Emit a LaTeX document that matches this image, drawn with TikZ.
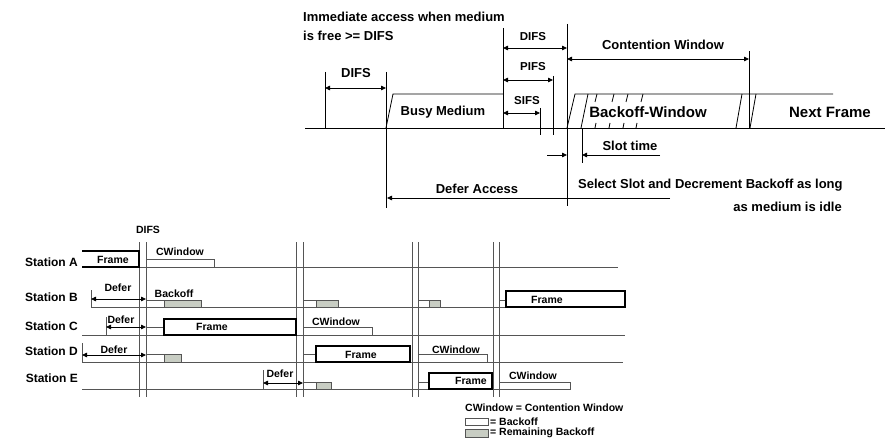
\documentclass[tikz,border=0pt]{standalone}
\usepackage{fontspec}
\setmainfont{Liberation Sans}
\usetikzlibrary{arrows.meta}
\definecolor{ln}{RGB}{85,85,85}
\definecolor{rem}{RGB}{200,205,195}
\tikzset{
  tl/.style={font=\bfseries\fontsize{13}{15}\selectfont, inner sep=0pt},
  sl/.style={font=\bfseries\fontsize{10.5}{12}\selectfont, inner sep=0pt},
  ml/.style={font=\bfseries\fontsize{11.5}{13}\selectfont, inner sep=0pt},
  stl/.style={font=\bfseries\fontsize{12}{14}\selectfont, inner sep=0pt, anchor=east},
  bl/.style={font=\bfseries\fontsize{15}{17}\selectfont, inner sep=0pt},
  tline/.style={line width=0.8pt, draw=black},
  gline/.style={line width=0.8pt, draw=ln},
  tip/.tip={Triangle[length=5pt,width=4.5pt]},
  dim/.style={line width=0.8pt, tip-tip},
  onearrow/.style={line width=0.8pt, -tip},
  wbox/.style={line width=0.7pt, draw=ln, fill=white},
  gbox/.style={line width=0.7pt, draw=ln, fill=rem},
  fbox/.style={line width=2pt, draw=black, fill=white}
}
\begin{document}
\begin{tikzpicture}[x=1pt,y=-1pt]
\useasboundingbox (0,0) rectangle (887,444);
\fill[white] (0,0) rectangle (887,444);

% ---------------- top diagram ----------------
\draw[tline] (305,128) -- (885,128);
\draw[tline] (325,72) -- (325,128);
\draw[tline] (386,72) -- (386,208);
\draw[tline] (503,28) -- (503,128);
\draw[tline] (567,24) -- (567,206);
\draw[tline] (540,108) -- (540,135);
\draw[tline] (553,76) -- (553,135);
\draw[tline] (749,51) -- (749,128);
\draw[tline] (582,128) -- (582,163);
% busy medium
\draw[tline] (386,128) -- (393,94) -- (503,94);
% backoff window / next frame
\draw[tline] (567,128) -- (575,94) -- (833,94);
\draw[tline] (581,128) -- (588,94);
\draw[tline] (736,128) -- (742,94);
\draw[tline] (750,128) -- (756,94);
\foreach \x in {595,612,626,641} \draw[tline] (\x,102) -- (\x+2,94);
\foreach \x in {595,609,623,636} \draw[tline] (\x,128) -- (\x+1,123);

% dimension arrows
\draw[dim] (325,88) -- (386,88);
\draw[dim] (503,48) -- (567,48);
\draw[dim] (503,80) -- (553,80);
\draw[dim] (503,113) -- (540,113);
\draw[dim] (567,59) -- (749,59);
\draw[onearrow] (670,198) -- (387,198);
\draw[onearrow] (547,155) -- (567,155);
\draw[onearrow] (660,155) -- (582,155);

% top labels
\node[tl, anchor=west] (imm1) at (303,17) {Immediate access when medium};
\node[tl, anchor=west] (imm2) at (303,36) {is free >= DIFS};
\node[tl] (difsL) at (356,73) {DIFS};
\node[tl] (busy) at (443,112) {Busy Medium};
\node[ml] (difsT) at (533,37) {DIFS};
\node[ml] (pifs) at (533,67) {PIFS};
\node[ml] (sifs) at (527,101) {SIFS};
\node[tl] (cw) at (663,45) {Contention Window};
\node[bl] (bw) at (648,112) {Backoff-Window};
\node[bl] (nf) at (830,112) {Next Frame};
\node[tl] (slot) at (630,146) {Slot time};
\node[tl] (defer) at (477,189) {Defer Access};
\node[tl, anchor=west] (sel1) at (578,185) {Select Slot and Decrement Backoff as long};
\node[tl, anchor=east] (sel2) at (842,207) {as medium is idle};

% ---------------- bottom diagram ----------------
\foreach \x in {139,146,296,303,412,418,493,499} \draw[gline] (\x,242) -- (\x,397);
\draw[gline] (82,267) -- (618,267);
\draw[gline] (91,307) -- (625,307);
\draw[gline] (82,335) -- (625,335);
\draw[gline] (82,362) -- (623,362);
\draw[gline] (82,389) -- (570,389);

% defer ticks and arrows
\draw[gline] (91,290) -- (91,307);
\draw[gline] (106,317) -- (106,335);
\draw[gline] (82,343) -- (82,362);
\draw[gline] (263,370) -- (263,389);
\draw[dim] (91,299) -- (146,299);
\draw[dim] (106,327) -- (146,327);
\draw[dim] (82,355) -- (146,355);
\draw[dim] (263,383) -- (303,383);

% Station A
\draw[line width=2pt] (82,251) -- (139,251) -- (139,267) -- (82,267);
\draw[wbox] (146,259) rectangle (214,267);
% Station B
\draw[wbox] (146,300) rectangle (164,307);
\draw[gbox] (164,300) rectangle (201,307);
\draw[wbox] (303,300) rectangle (316,307);
\draw[gbox] (316,300) rectangle (338,307);
\draw[wbox] (418,300) rectangle (429,307);
\draw[gbox] (429,300) rectangle (440,307);
\draw[wbox] (499,300) rectangle (506,307);
\draw[fbox] (506,291) rectangle (625,307);
% Station C
\draw[wbox] (146,327) rectangle (164,335);
\draw[fbox] (164,319) rectangle (296,335);
\draw[wbox] (303,327) rectangle (372,335);
% Station D
\draw[wbox] (146,354) rectangle (164,362);
\draw[gbox] (164,354) rectangle (181,362);
\draw[wbox] (303,354) rectangle (316,362);
\draw[fbox] (316,346) rectangle (410,362);
\draw[wbox] (418,354) rectangle (487,362);
% Station E
\draw[wbox] (303,382) rectangle (316,389);
\draw[gbox] (316,382) rectangle (331,389);
\draw[wbox] (418,382) rectangle (429,389);
\draw[fbox] (429,373) rectangle (492,389);
\draw[wbox] (499,382) rectangle (570,389);

% bottom labels
\node[sl] (difsB) at (148,230) {DIFS};
\node[stl] (stA) at (78,262) {Station A};
\node[stl] (stB) at (78,297) {Station B};
\node[stl] (stC) at (78,326) {Station C};
\node[stl] (stD) at (78,351) {Station D};
\node[stl] (stE) at (78,378) {Station E};
\node[sl] (frA) at (113,260) {Frame};
\node[sl] (cwA) at (180,252) {CWindow};
\node[sl] (dfB) at (118,288) {Defer};
\node[sl] (boB) at (174,294) {Backoff};
\node[sl] (frB) at (547,300) {Frame};
\node[sl] (dfC) at (121,320) {Defer};
\node[sl] (frC) at (212,327) {Frame};
\node[sl] (cwC) at (336,322) {CWindow};
\node[sl] (dfD) at (114,350) {Defer};
\node[sl] (frD) at (361,355) {Frame};
\node[sl] (cwD) at (456,350) {CWindow};
\node[sl] (dfE) at (280,374) {Defer};
\node[sl] (frE) at (471,381) {Frame};
\node[sl] (cwE) at (533,376) {CWindow};

% legend
\node[sl, anchor=west] (leg1) at (465,408) {CWindow = Contention Window};
\draw[wbox] (465,418) rectangle (488,425);
\node[sl, anchor=west] (leg2) at (490,422) {= Backoff};
\draw[gbox] (465,429) rectangle (488,437);
\node[sl, anchor=west] (leg3) at (490,433) {= Remaining Backoff};
\end{tikzpicture}
\end{document}
